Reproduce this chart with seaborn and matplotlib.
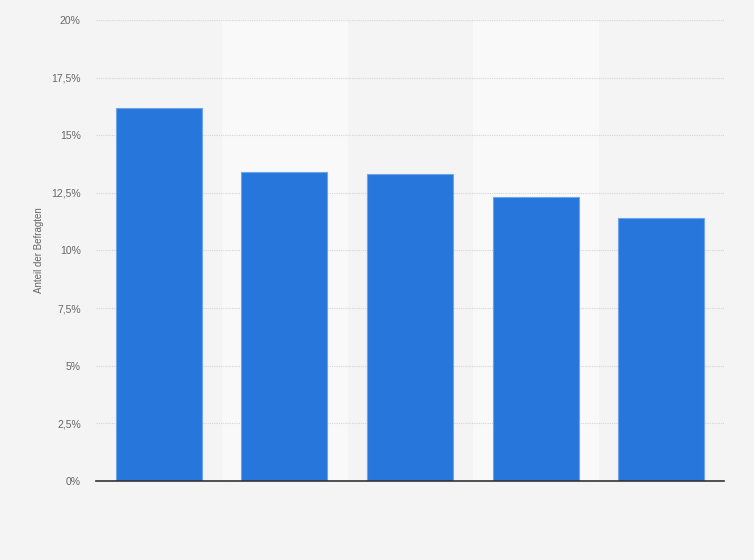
import seaborn as sns
import pandas as pd
import matplotlib.pyplot as plt
from matplotlib.ticker import FuncFormatter

# Data (share of respondents, percent)
categories = ['A', 'B', 'C', 'D', 'E']
values = [16.2, 13.4, 13.3, 12.3, 11.4]
y_ticks = [0, 2.5, 5, 7.5, 10, 12.5, 15, 17.5, 20]

data = pd.DataFrame({'Kategorie': categories, 'Anteil': values})

sns.set_style('white')
plt.rcParams['font.family'] = ['Liberation Sans', 'DejaVu Sans']

fig = plt.figure(figsize=(7.54, 5.6), dpi=100, facecolor='#f4f4f4')
ax = fig.add_axes([0.1273, 0.1411, 0.8329, 0.8232])
ax.set_facecolor('#f4f4f4')

# alternating column bands
for i in range(len(categories)):
    if i % 2 == 1:
        ax.axvspan(i - 0.5, i + 0.5, color='#f9f9f9', zorder=0)

sns.barplot(x='Kategorie', y='Anteil', data=data, color='#2776db',
            width=0.685, edgecolor='#6fa3ea', linewidth=0.8,
            saturation=1, ax=ax, zorder=3)

ax.set_xlim(-0.5, len(categories) - 0.5)
ax.set_ylim(0, 20)
ax.set_yticks(y_ticks)
ax.yaxis.set_major_formatter(FuncFormatter(
    lambda v, p: (f'{v:g}'.replace('.', ',')) + '%'))
ax.grid(axis='y', color='#d4d4d4', linestyle=(0, (1, 1)), linewidth=0.8, zorder=1)
ax.set_axisbelow(True)

ax.set_xticks(range(len(categories)))
ax.set_xticklabels([''] * len(categories))
ax.tick_params(axis='x', length=0)
ax.tick_params(axis='y', length=0, labelsize=7.5, labelcolor='#666666', pad=11)
ax.set_xlabel('')
ax.set_ylabel('Anteil der Befragten', fontsize=7, color='#666666')
ax.yaxis.set_label_coords(-0.083, 0.5)

for s in ['top', 'right', 'left']:
    ax.spines[s].set_visible(False)
ax.spines['bottom'].set_color('#333333')
ax.spines['bottom'].set_linewidth(1.2)
ax.spines['bottom'].set_zorder(5)

fig.savefig('out.png', dpi=100, facecolor=fig.get_facecolor())
